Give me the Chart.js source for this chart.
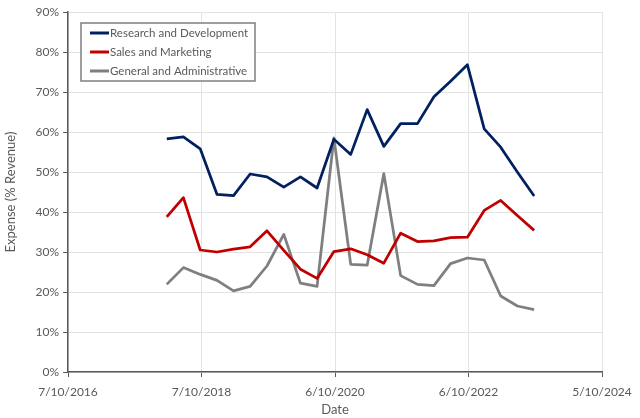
<!DOCTYPE html>
<html>
<head>
<meta charset="utf-8">
<script src="https://cdn.jsdelivr.net/npm/chart.js@4/dist/chart.umd.min.js"></script>
<style>
  html, body { margin: 0; padding: 0; background: #fff; }
  #wrap { width: 640px; height: 418px; }
</style>
</head>
<body>
<div id="wrap"><canvas id="c" width="640" height="418"></canvas></div>
<script>
// quarter-end dates
const QUARTERS = ['2018-03-31', '2018-06-30', '2018-09-30', '2018-12-31',
                  '2019-03-31', '2019-06-30', '2019-09-30', '2019-12-31',
                  '2020-03-31', '2020-06-30', '2020-09-30', '2020-12-31',
                  '2021-03-31', '2021-06-30', '2021-09-30', '2021-12-31',
                  '2022-03-31', '2022-06-30', '2022-09-30', '2022-12-31',
                  '2023-03-31', '2023-06-30', '2023-09-30'];

// expense as % of revenue
const RD = [58.3, 58.8, 55.8, 44.4, 44.1, 49.5, 48.8, 46.2, 48.8, 46.0, 58.2, 54.4,
            65.6, 56.4, 62.1, 62.1, 68.8, 72.7, 76.8, 60.8, 56.2, 50.0, 44.0];
const SM = [38.8, 43.6, 30.5, 30.0, 30.7, 31.3, 35.3, 30.4, 25.7, 23.4, 30.1, 30.8,
            29.3, 27.2, 34.7, 32.6, 32.8, 33.6, 33.7, 40.4, 42.9, 39.1, 35.4];
const GA = [21.9, 26.1, 24.4, 22.9, 20.3, 21.4, 26.5, 34.4, 22.2, 21.4, 58.5, 26.9,
            26.7, 49.6, 24.1, 21.9, 21.6, 27.1, 28.5, 28.0, 19.0, 16.5, 15.6];

const SERIES_NAMES  = ['Research and Development', 'Sales and Marketing', 'General and Administrative'];
const SERIES_COLORS = ['#002060', '#c00000', '#7f7f7f'];

// x axis: day numbers, ticks every 730 days from 7/10/2016 (d/m/yyyy)
const X_START = '2016-10-07';
const X_STEP  = 730;
const X_STEPS = 4;

const FONT = 'Lato, "Open Sans", sans-serif';
const TXT  = '#595959';

const dayNum = s => Date.parse(s + 'T00:00:00Z') / 864e5;
const fmtDay = v => {
  const d = new Date(v * 864e5);
  return d.getUTCDate() + '/' + (d.getUTCMonth() + 1) + '/' + d.getUTCFullYear();
};

const xMin = dayNum(X_START);
const xs = QUARTERS.map(dayNum);
const pts = arr => arr.map((v, i) => ({ x: xs[i], y: v }));

// legend box drawn inside the plot, Excel style
const boxLegend = {
  id: 'boxLegend',
  afterDraw(chart) {
    const ctx = chart.ctx;
    const L = 81, T = 23, W = 174, H = 58;
    ctx.save();
    ctx.fillStyle = '#fff';
    ctx.fillRect(L, T, W, H);
    ctx.strokeStyle = '#7f7f7f';
    ctx.lineWidth = 1.5;
    ctx.strokeRect(L, T, W, H);
    ctx.font = '11.5px ' + FONT;
    ctx.textBaseline = 'middle';
    chart.data.datasets.forEach((ds, i) => {
      const y = T + 10 + i * 19;
      ctx.strokeStyle = ds.borderColor;
      ctx.lineWidth = 3;
      ctx.beginPath();
      ctx.moveTo(90, y);
      ctx.lineTo(109, y);
      ctx.stroke();
      ctx.fillStyle = TXT;
      ctx.fillText(ds.label, 110, y + 0.5);
    });
    ctx.restore();
  }
};

new Chart(document.getElementById('c'), {
  type: 'line',
  data: {
    datasets: [RD, SM, GA].map((arr, i) => ({
      label: SERIES_NAMES[i],
      data: pts(arr),
      borderColor: SERIES_COLORS[i],
      backgroundColor: SERIES_COLORS[i],
      borderWidth: 2.75,
      pointRadius: 0,
      tension: 0,
      borderJoinStyle: 'round'
    }))
  },
  options: {
    responsive: false,
    animation: false,
    layout: { padding: { left: 3, right: 38, top: 12, bottom: 0 } },
    plugins: { legend: { display: false }, tooltip: { enabled: false } },
    scales: {
      x: {
        type: 'linear',
        min: xMin,
        max: xMin + X_STEP * X_STEPS,
        afterFit: s => { s.height = 46; },
        grid: { color: '#e3e3e3', tickColor: '#595959', tickLength: 5, lineWidth: 1 },
        border: { color: '#595959', width: 1.5 },
        ticks: { stepSize: X_STEP, maxRotation: 0, color: TXT, font: { family: FONT, size: 12 },
                 padding: 8, callback: v => fmtDay(v) },
        title: { display: true, text: 'Date', color: TXT, font: { family: FONT, size: 13 },
                 padding: { top: 0, bottom: 0 } }
      },
      y: {
        min: 0,
        max: 90,
        afterFit: s => { s.width = 65; },
        grid: { color: '#e3e3e3', tickColor: '#595959', tickLength: 5, lineWidth: 1 },
        border: { color: '#595959', width: 1.5 },
        ticks: { stepSize: 10, color: TXT, font: { family: FONT, size: 12 }, padding: 4,
                 callback: v => v + '%' },
        title: { display: true, text: 'Expense (% Revenue)', color: TXT,
                 font: { family: FONT, size: 13 }, padding: { top: 0, bottom: 2 } }
      }
    }
  },
  plugins: [boxLegend]
});
</script>
</body>
</html>
